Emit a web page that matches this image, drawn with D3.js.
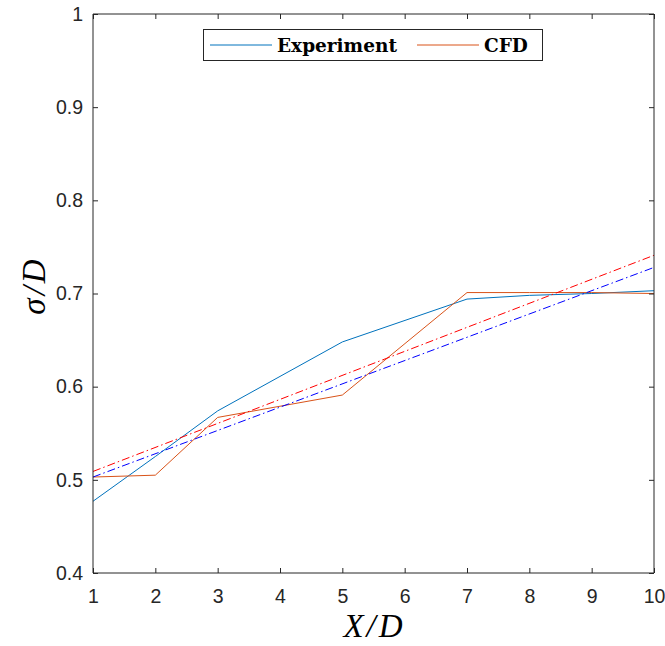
<!DOCTYPE html>
<html>
<head>
<meta charset="utf-8">
<script src="https://cdn.jsdelivr.net/npm/d3@7"></script>
<style>
  body { margin: 0; background: #fff; }
  svg { display: block; }
</style>
</head>
<body>
<svg id="chart" width="665" height="646"></svg>
<script>
// Measured spread along the wake
const expX = [1, 2, 3, 5, 7, 8, 9, 10];
const expY = [0.477, 0.525, 0.574, 0.648, 0.694, 0.698, 0.700, 0.703];
const cfdX = [1, 2, 3, 4, 5, 7, 8, 9, 10];
const cfdY = [0.503, 0.505, 0.567, 0.579, 0.591, 0.701, 0.701, 0.701, 0.700];
// Linear trend lines (end points)
const fitX = [1, 10];
const fitRedY = [0.509, 0.741];
const fitBlueY = [0.503, 0.728];
const xTicks = [1, 2, 3, 4, 5, 6, 7, 8, 9, 10];
const yTicks = [0.4, 0.5, 0.6, 0.7, 0.8, 0.9, 1];

const svg = d3.select("#chart");
const L = 93, R = 654, T = 14, B = 573;
const x = d3.scaleLinear().domain([1, 10]).range([L, R]);
const y = d3.scaleLinear().domain([0.4, 1]).range([B, T]);
const axisCol = "#262626";

const line = d3.line().x(d => x(d[0])).y(d => y(d[1]));
const zip = (a, b) => a.map((v, i) => [v, b[i]]);

const plot = svg.append("g");
plot.append("path").datum(zip(expX, expY))
  .attr("d", line).attr("fill", "none").attr("stroke", "#0072BD").attr("stroke-width", 1);
plot.append("path").datum(zip(cfdX, cfdY))
  .attr("d", line).attr("fill", "none").attr("stroke", "#D95319").attr("stroke-width", 1);
plot.append("path").datum(zip(fitX, fitRedY))
  .attr("d", line).attr("fill", "none").attr("stroke", "#FF0000").attr("stroke-width", 1)
  .attr("stroke-dasharray", "8,3,1.5,3");
plot.append("path").datum(zip(fitX, fitBlueY))
  .attr("d", line).attr("fill", "none").attr("stroke", "#0000FF").attr("stroke-width", 1)
  .attr("stroke-dasharray", "8,3,1.5,3");

// Axes with inward ticks on all four sides
const fmtY = d => d === 1 ? "1" : d3.format(".1f")(d);
const axB = svg.append("g").attr("transform", `translate(0,${B})`)
  .call(d3.axisBottom(x).tickValues(xTicks).tickSize(-5).tickPadding(16).tickFormat(d3.format("d")));
const axT = svg.append("g").attr("transform", `translate(0,${T})`)
  .call(d3.axisTop(x).tickValues(xTicks).tickSize(-5).tickFormat(""));
const axL = svg.append("g").attr("transform", `translate(${L},0)`)
  .call(d3.axisLeft(y).tickValues(yTicks).tickSize(-5).tickPadding(10).tickFormat(fmtY));
const axR = svg.append("g").attr("transform", `translate(${R},0)`)
  .call(d3.axisRight(y).tickValues(yTicks).tickSize(-5).tickFormat(""));
[axB, axT, axL, axR].forEach(a => {
  a.select(".domain").attr("stroke", axisCol).attr("stroke-width", 1);
  a.selectAll(".tick line").attr("stroke", axisCol);
  a.selectAll(".tick text").attr("fill", axisCol)
    .style("font-family", "Liberation Sans, Arial, sans-serif").style("font-size", "19.5px");
});
axB.selectAll(".domain").attr("d", `M${L},0H${R}`);
axT.selectAll(".domain").attr("d", `M${L},0H${R}`);
axL.selectAll(".domain").attr("d", `M0,${B}V${T}`);
axR.selectAll(".domain").attr("d", `M0,${B}V${T}`);

// Axis titles (math-style italic with spaced slash)
function mathLabel(sel, parts) {
  const t = sel.style("font-family", "Liberation Serif, Times New Roman, serif")
    .style("font-style", "italic").style("font-size", "33px").attr("fill", "#000")
    .attr("text-anchor", "middle");
  parts.forEach((p, i) => t.append("tspan").attr("dx", i ? 3 : 0).text(p));
  return t;
}
mathLabel(svg.append("text").attr("x", 373).attr("y", 637), ["X", "/", "D"]);
mathLabel(svg.append("text").attr("transform", "translate(45,287) rotate(-90)"), ["σ", "/", "D"]);

// Legend
const leg = svg.append("g");
leg.append("rect").attr("x", 203.5).attr("y", 29.5).attr("width", 339).attr("height", 31)
  .attr("fill", "#fff").attr("stroke", axisCol).attr("stroke-width", 1);
const items = [
  { name: "Experiment", color: "#0072BD", x0: 210, tx: 277 },
  { name: "CFD", color: "#D95319", x0: 417, tx: 484 }
];
items.forEach(it => {
  leg.append("line").attr("x1", it.x0).attr("x2", it.x0 + 62).attr("y1", 45).attr("y2", 45)
    .attr("stroke", it.color).attr("stroke-width", 1);
  leg.append("text").attr("x", it.tx).attr("y", 51.5)
    .style("font-family", "DejaVu Serif, serif").style("font-weight", "bold")
    .style("font-size", "18.5px").attr("fill", "#000").text(it.name);
});
</script>
</body>
</html>
